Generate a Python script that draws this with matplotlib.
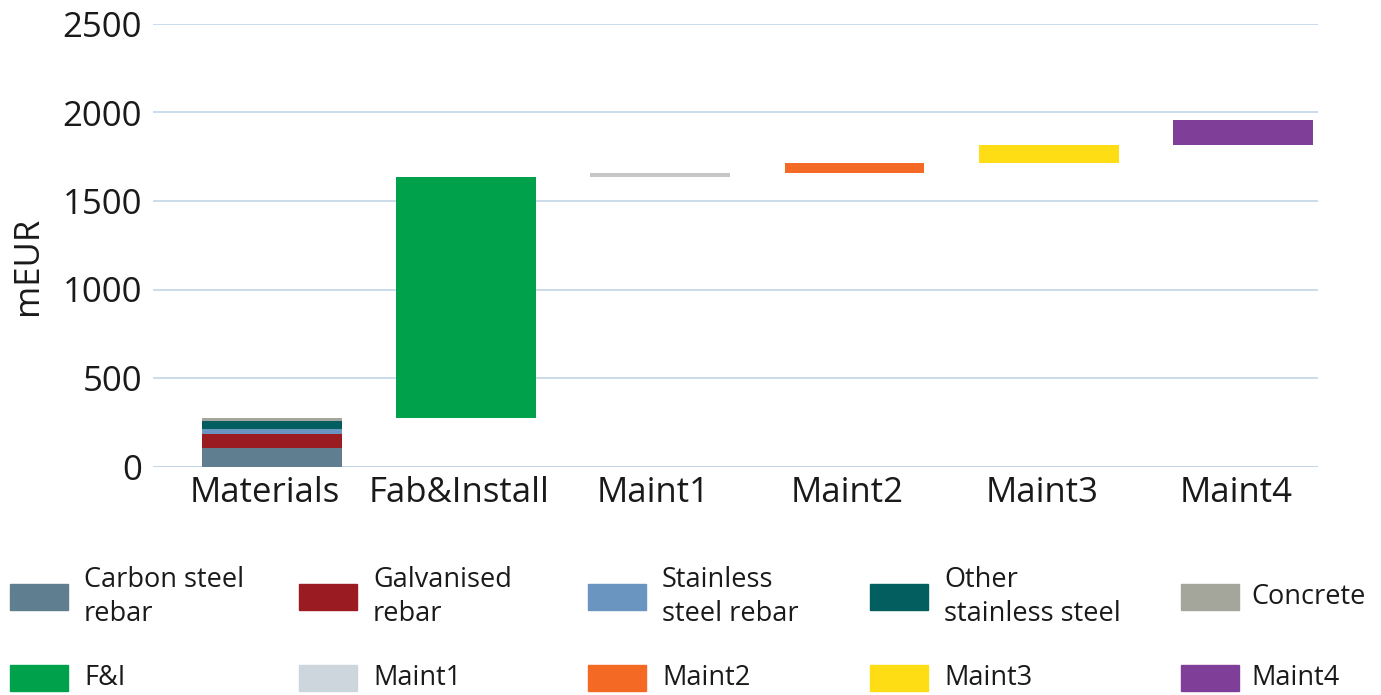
"""Waterfall of lifetime cost: materials, fabrication & install, maintenance."""
import matplotlib.pyplot as plt
import matplotlib.transforms as mtransforms
import numpy as np
from matplotlib.patches import Rectangle

plt.rcParams["font.family"] = ["Open Sans", "DejaVu Sans"]

CATEGORIES = ["Materials", "Fab&Install", "Maint1", "Maint2", "Maint3", "Maint4"]

# Materials split (mEUR)
MATERIAL_LABELS = ["Carbon steel\nrebar", "Galvanised\nrebar", "Stainless\nsteel rebar",
                   "Other\nstainless steel", "Concrete"]
MATERIAL_VALUES = [105, 80, 27, 47, 17]

# Remaining steps of the waterfall (mEUR)
STEP_LABELS = ["F&I", "Maint1", "Maint2", "Maint3", "Maint4"]
STEP_VALUES = [1362, 20, 58, 101, 142]

MATERIAL_COLORS = ["#5f7f91", "#9a1c22", "#6a95c0", "#035f5f", "#a4a59b"]
STEP_COLORS = ["#00a14b", "#c6c6c6", "#f46a24", "#ffdd15", "#7f3f98"]
STEP_LEGEND_COLORS = ["#00a14b", "#cdd5dd", "#f46a24", "#ffdd15", "#7f3f98"]

W, H = 1381, 695


def main():
    fig = plt.figure(figsize=(W / 100, H / 100), dpi=100)
    ax = fig.add_axes([153 / W, 1 - 466.5 / H, 1165 / W, 442.5 / H])

    x = np.arange(len(CATEGORIES))
    width = 0.72

    # stacked materials column
    bottom = 0
    for v, c in zip(MATERIAL_VALUES, MATERIAL_COLORS):
        ax.bar(x[0], v, width, bottom=bottom, color=c, zorder=3)
        bottom += v

    # floating waterfall steps
    starts = bottom + np.concatenate([[0], np.cumsum(STEP_VALUES)[:-1]])
    ax.bar(x[1:], STEP_VALUES, width, bottom=starts, color=STEP_COLORS, zorder=3)

    ax.set_xlim(-0.613, 5.387)
    ax.set_ylim(0, 2500)
    ax.set_yticks(np.arange(0, 2501, 500))
    ax.set_xticks(x)
    ax.set_xticklabels(CATEGORIES)
    ax.tick_params(axis="both", length=0, labelsize=25, colors="#1a1a1a")
    ax.tick_params(axis="y", pad=8)
    ax.tick_params(axis="x", pad=7)
    # category labels sit a touch left of the bar centres in the original
    shift = mtransforms.ScaledTranslation(-0.07, 0, fig.dpi_scale_trans)
    for lab in ax.get_xticklabels():
        lab.set_transform(lab.get_transform() + shift)
    ax.grid(axis="y", color="#c3d5e6", linewidth=1.2, zorder=0)
    for s in ax.spines.values():
        s.set_visible(False)
    ax.axhline(0, color="#c3d5e6", linewidth=2, zorder=1)

    ax.set_ylabel("mEUR", fontsize=25, color="#1a1a1a")
    ax.yaxis.set_label_coords(-0.1073, 0.453)
    ax.yaxis.label.set_va("center")

    # legend drawn by hand: two rows, five columns
    box_x = [10, 299, 588, 870, 1181]
    text_x = [84, 373, 662, 944, 1251]
    rows = [(MATERIAL_LABELS, MATERIAL_COLORS, 597),
            (STEP_LABELS, STEP_LEGEND_COLORS, 678)]
    for labels, colors, yc in rows:
        for bx, tx, lab, c in zip(box_x, text_x, labels, colors):
            fig.patches.append(Rectangle((bx / W, 1 - (yc + 13) / H), 58 / W, 26 / H,
                                         transform=fig.transFigure, color=c))
            fig.text(tx / W, 1 - yc / H, lab, fontsize=19.5, va="center", ha="left",
                     color="#1a1a1a", linespacing=1.28)

    fig.savefig("out.png", dpi=100)


if __name__ == "__main__":
    main()
